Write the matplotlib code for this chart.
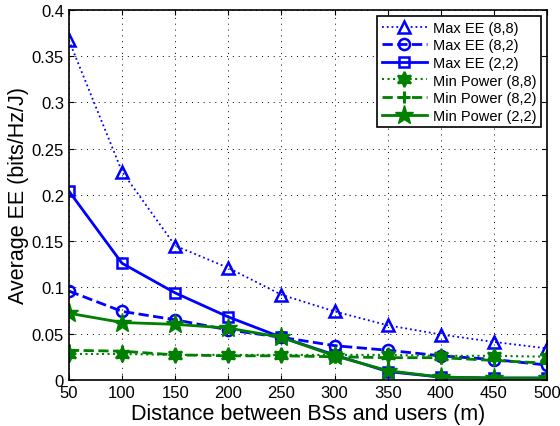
import numpy as np
import matplotlib
matplotlib.use("Agg")
import matplotlib.pyplot as plt

plt.rcParams['font.family'] = ['Liberation Sans', 'DejaVu Sans']

distance = [50, 100, 150, 200, 250, 300, 350, 400, 450, 500]
max_ee_88 = [0.367, 0.225, 0.145, 0.121, 0.092, 0.074, 0.059, 0.049, 0.041, 0.034]
max_ee_82 = [0.096, 0.074, 0.065, 0.054, 0.046, 0.037, 0.032, 0.026, 0.022, 0.016]
max_ee_22 = [0.204, 0.126, 0.094, 0.068, 0.046, 0.027, 0.009, 0.003, 0.002, 0.002]
min_p_88 = [0.028, 0.028, 0.027, 0.027, 0.027, 0.027, 0.027, 0.026, 0.026, 0.025]
min_p_82 = [0.032, 0.031, 0.027, 0.026, 0.026, 0.025, 0.024, 0.024, 0.021, 0.018]
min_p_22 = [0.072, 0.062, 0.060, 0.056, 0.046, 0.026, 0.010, 0.003, 0.002, 0.002]

fig = plt.figure(figsize=(5.6, 4.27), dpi=100)
ax = fig.add_axes([0.123, 0.108, 0.854, 0.867])

blue = '#0000ff'
green = '#008000'
ax.plot(distance, max_ee_88, ':', color=blue, lw=1.3, marker='^', ms=9, mew=1.8,
        mfc='none', label='Max EE (8,8)')
ax.plot(distance, max_ee_82, '--', color=blue, lw=2, marker='o', ms=8, mew=1.8,
        mfc='none', label='Max EE (8,2)')
ax.plot(distance, max_ee_22, '-', color=blue, lw=2, marker='s', ms=7, mew=1.8,
        mfc='none', label='Max EE (2,2)')
ax.plot(distance, min_p_88, ':', color=green, lw=1.5, marker=(6, 1, 0), ms=11, mew=1.5,
        label='Min Power (8,8)')
ax.plot(distance, min_p_82, '--', color=green, lw=2, marker='+', ms=9, mew=2.2,
        label='Min Power (8,2)')
ax.plot(distance, min_p_22, '-', color=green, lw=2, marker='*', ms=14, mew=1,
        label='Min Power (2,2)')

ax.set_xlim(50, 500)
ax.set_ylim(0, 0.4)
ax.set_xticks(distance)
ax.set_yticks(np.arange(0, 0.41, 0.05))
ax.set_yticklabels(['0', '0.05', '0.1', '0.15', '0.2', '0.25', '0.3', '0.35', '0.4'])
ax.tick_params(direction='in', labelsize=12, top=True, right=True)
for s in ax.spines.values():
    s.set_linewidth(1.2)
ax.grid(True, linestyle=(0, (1, 5)), color='black', lw=0.7)
ax.set_xlabel('Distance between BSs and users (m)', fontsize=15.5, labelpad=2)
ax.set_ylabel('Average EE (bits/Hz/J)', fontsize=15.5, labelpad=2)

leg = ax.legend(loc='upper right', fontsize=10.5, fancybox=False, framealpha=1,
                edgecolor='black', handlelength=3.1, borderpad=0.3, labelspacing=0.25,
                handletextpad=0.4, borderaxespad=0.45)
leg.get_frame().set_linewidth(1.2)

fig.savefig('out.png', dpi=100)
